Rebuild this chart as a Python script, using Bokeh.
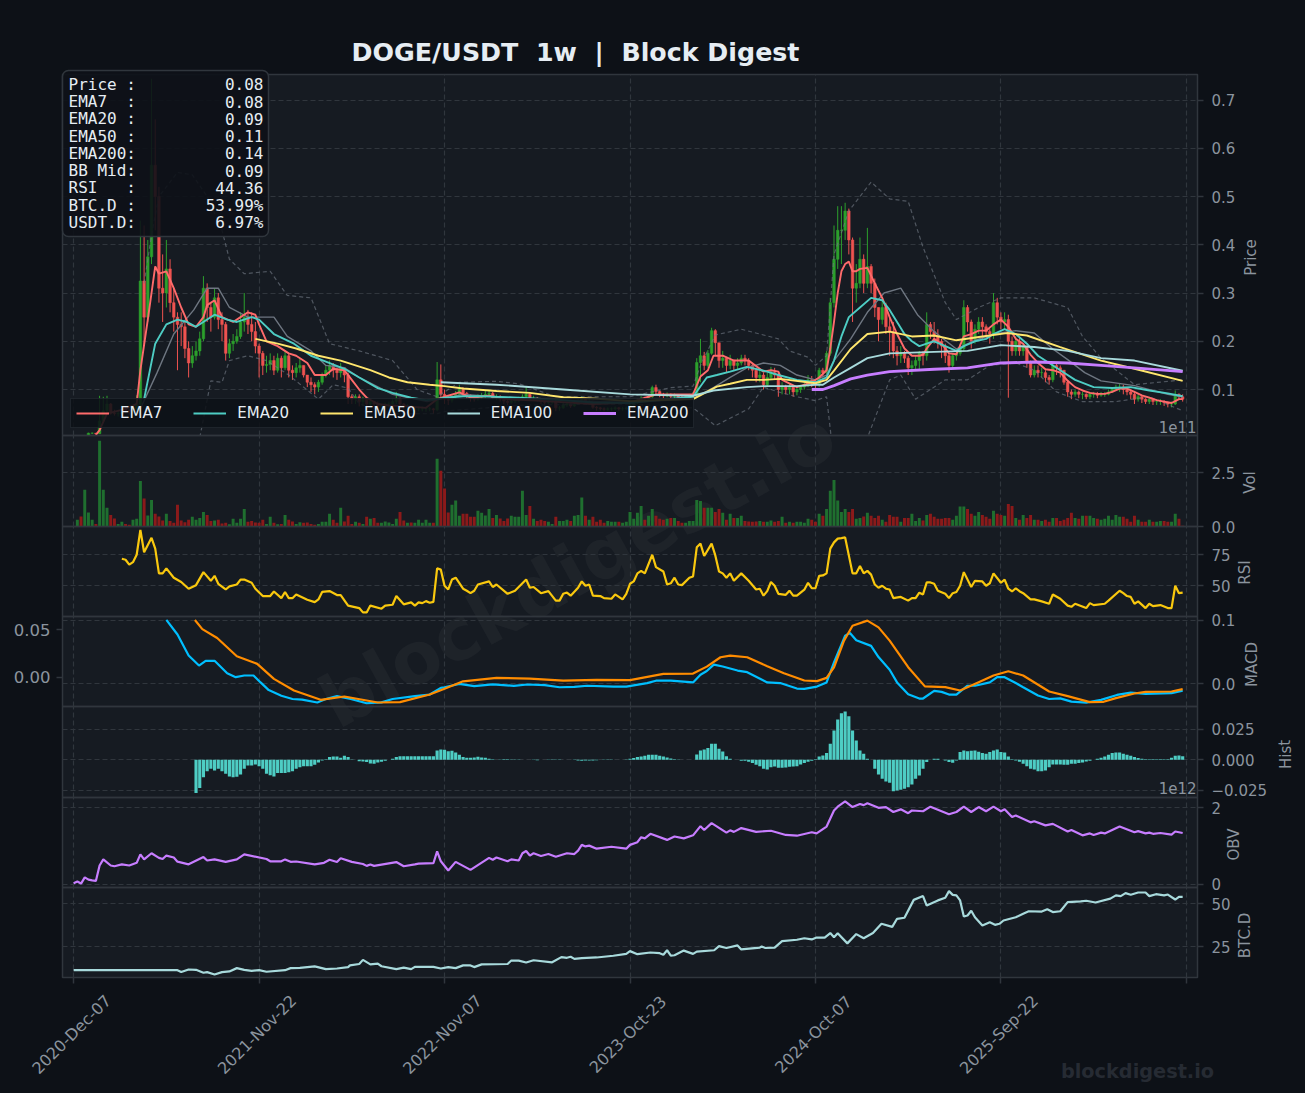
from bokeh.plotting import figure
from bokeh.layouts import column
from bokeh.models import Range1d, FixedTicker, LinearAxis, Legend, LegendItem, ColumnDataSource
from bokeh.core.properties import value
from bokeh.embed import file_html
from bokeh.resources import INLINE
import math

# ---------- data ----------
tick_idx = [0, 50, 100, 150, 200, 250, 300]
tick_labels = ["2020-Dec-07", "2021-Nov-22", "2022-Nov-07", "2023-Oct-23", "2024-Oct-07", "2025-Sep-22", ""]
panel_names = ["Price", "Vol", "RSI", "MACD", "Hist", "OBV", "BTC.D"]

close = [
 .0045,.0046,.0045,.0047,.0095,.0095,.0085,.035,.056,.07,
 .051,.05,.05,.06,.057,.055,.06,.07,.325,.25,
 .375,.565,.50,.31,.30,.35,.28,.25,.235,.23,
 .185,.155,.17,.18,.205,.31,.27,.25,.29,.245,
 .235,.175,.195,.20,.21,.24,.25,.235,.22,.19,
 .175,.15,.152,.16,.14,.165,.145,.17,.14,.135,
 .145,.15,.13,.115,.11,.105,.115,.13,.14,.15,
 .14,.135,.145,.13,.085,.08,.085,.075,.08,.07,
 .075,.07,.065,.065,.07,.07,.075,.08,.07,.065,
 .065,.06,.06,.06,.06,.06,.06,.058,.12,.09,
 .08,.078,.085,.09,.10,.092,.088,.083,.08,.084,
 .087,.09,.092,.083,.085,.08,.076,.073,.076,.078,
 .08,.085,.09,.08,.082,.08,.075,.073,.074,.075,
 .062,.062,.068,.07,.066,.07,.076,.082,.074,.075,
 .063,.062,.06,.059,.06,.06,.062,.06,.06,.062,
 .068,.072,.078,.082,.08,.085,.104,.096,.09,.087,
 .09,.086,.088,.084,.082,.085,.088,.09,.156,.17,
 .15,.175,.222,.197,.16,.165,.15,.16,.15,.155,
 .165,.16,.15,.14,.125,.13,.11,.125,.135,.13,
 .10,.105,.10,.105,.095,.10,.105,.11,.12,.115,
 .11,.14,.135,.175,.28,.37,.43,.43,.47,.41,
 .31,.32,.37,.32,.355,.32,.27,.245,.27,.23,
 .22,.18,.17,.175,.165,.145,.15,.16,.175,.17,
 .235,.22,.21,.20,.19,.17,.15,.17,.175,.185,
 .27,.24,.20,.225,.24,.23,.22,.215,.28,.25,
 .24,.245,.20,.18,.20,.18,.19,.155,.13,.14,
 .135,.135,.125,.12,.15,.145,.14,.115,.095,.09,
 .095,.09,.09,.085,.09,.09,.088,.09,.09,.095,
 .10,.105,.105,.10,.095,.09,.08,.085,.08,.075,
 .08,.075,.075,.075,.073,.07,.07,.09,.085,.08]
high = [
 .0049,.0052,.0049,.0058,.0105,.0108,.0098,.087,.085,.087,
 .072,.058,.056,.068,.066,.06,.066,.088,.45,.44,
 .41,.744,.66,.52,.38,.41,.37,.31,.26,.26,
 .24,.20,.19,.20,.22,.335,.32,.28,.31,.30,
 .26,.24,.205,.215,.225,.26,.30,.265,.26,.24,
 .195,.18,.17,.175,.17,.175,.17,.18,.175,.15,
 .155,.165,.15,.13,.125,.115,.12,.135,.15,.16,
 .155,.145,.155,.145,.135,.09,.09,.09,.085,.085,
 .08,.077,.075,.07,.073,.075,.08,.095,.083,.072,
 .07,.067,.066,.065,.065,.064,.064,.062,.157,.152,
 .10,.088,.09,.097,.11,.105,.095,.09,.088,.09,
 .093,.097,.098,.095,.09,.088,.082,.079,.08,.082,
 .085,.09,.107,.092,.087,.084,.08,.077,.078,.079,
 .08,.066,.072,.074,.071,.073,.08,.086,.083,.08,
 .077,.066,.064,.063,.063,.063,.065,.064,.064,.065,
 .072,.075,.082,.086,.085,.089,.108,.11,.098,.093,
 .094,.092,.092,.09,.087,.088,.091,.095,.165,.205,
 .178,.182,.228,.225,.19,.18,.168,.172,.162,.165,
 .172,.172,.165,.155,.145,.14,.135,.135,.147,.145,
 .135,.115,.11,.112,.108,.106,.11,.118,.13,.128,
 .12,.145,.145,.18,.29,.44,.48,.48,.487,.475,
 .415,.36,.415,.38,.435,.36,.33,.27,.285,.28,
 .25,.24,.19,.19,.18,.17,.16,.17,.18,.18,
 .26,.24,.24,.225,.205,.195,.175,.175,.185,.195,
 .285,.275,.245,.235,.25,.25,.235,.225,.30,.29,
 .26,.26,.255,.21,.21,.21,.195,.19,.16,.15,
 .15,.145,.14,.13,.155,.155,.15,.14,.12,.10,
 .10,.098,.095,.092,.094,.095,.095,.095,.095,.10,
 .103,.11,.112,.11,.10,.10,.095,.09,.088,.082,
 .085,.082,.08,.08,.078,.075,.075,.098,.092,.09]
low = [
 .0041,.0042,.0040,.0043,.0046,.0078,.0068,.0080,.033,.052,
 .048,.046,.044,.048,.052,.048,.052,.056,.065,.19,
 .24,.36,.43,.28,.24,.27,.26,.22,.14,.19,
 .165,.125,.145,.16,.17,.20,.24,.22,.245,.225,
 .20,.16,.165,.18,.195,.205,.22,.215,.20,.175,
 .125,.13,.135,.14,.13,.135,.125,.14,.125,.12,
 .125,.135,.125,.105,.095,.09,.095,.11,.125,.13,
 .125,.12,.125,.115,.07,.07,.07,.065,.065,.06,
 .062,.06,.058,.058,.06,.063,.065,.07,.064,.06,
 .058,.056,.055,.055,.055,.054,.055,.05,.055,.08,
 .07,.068,.073,.08,.088,.085,.08,.075,.075,.077,
 .08,.083,.085,.08,.078,.075,.07,.068,.07,.072,
 .074,.077,.082,.076,.076,.075,.07,.069,.07,.07,
 .055,.056,.06,.064,.062,.064,.068,.072,.07,.068,
 .06,.056,.056,.055,.056,.056,.057,.056,.056,.057,
 .06,.066,.07,.076,.075,.078,.083,.09,.084,.082,
 .084,.08,.082,.08,.078,.08,.083,.085,.09,.115,
 .14,.145,.172,.17,.145,.145,.135,.142,.138,.142,
 .15,.15,.14,.125,.115,.115,.10,.105,.12,.12,
 .085,.09,.09,.09,.085,.088,.093,.10,.105,.105,
 .10,.105,.125,.132,.17,.27,.35,.36,.41,.38,
 .24,.28,.31,.30,.31,.30,.25,.20,.235,.215,
 .17,.165,.15,.155,.155,.13,.13,.14,.14,.15,
 .16,.205,.195,.185,.165,.155,.135,.145,.16,.17,
 .18,.22,.185,.195,.215,.205,.205,.195,.205,.235,
 .225,.225,.083,.17,.17,.17,.17,.145,.125,.125,
 .125,.125,.115,.11,.115,.13,.125,.11,.085,.08,
 .085,.082,.08,.08,.08,.083,.082,.085,.085,.088,
 .093,.098,.095,.09,.088,.08,.07,.075,.072,.07,
 .07,.068,.068,.068,.066,.063,.063,.068,.078,.075]

volume_1e9 = [
 2,31,47,171,65,31,12,400,171,87,54,37,12,22,12,8,31,36,212,130,
 51,124,59,47,28,59,26,17,101,28,20,31,45,31,40,68,54,26,28,31,
 14,17,11,36,17,36,82,22,26,19,17,31,12,45,17,11,12,54,31,23,
 12,20,17,19,12,8,12,22,22,59,31,17,87,23,50,12,22,17,12,45,
 36,40,17,17,23,19,12,36,68,28,17,19,17,31,17,31,17,17,316,260,
 177,65,101,121,50,59,59,45,45,73,64,51,82,40,54,37,26,37,50,45,
 45,167,54,96,36,26,31,26,22,12,45,26,26,31,26,50,54,135,50,31,
 45,22,31,17,26,22,22,22,17,22,68,36,64,96,31,50,82,50,36,31,
 36,40,40,26,17,17,26,26,124,119,87,87,87,68,82,64,31,59,40,40,
 50,26,23,22,23,26,22,22,28,22,26,45,17,22,17,22,22,17,36,31,
 22,59,50,82,167,217,121,68,82,68,82,36,40,47,64,50,40,50,31,22,
 54,45,45,22,40,40,59,26,40,28,54,59,45,36,36,40,40,31,50,93,
 93,82,59,50,68,54,45,36,73,59,54,50,105,96,40,31,54,40,54,31,
 31,26,31,22,40,40,26,31,40,64,40,36,50,50,50,40,36,31,36,50,
 31,54,45,45,36,22,50,31,22,22,31,22,22,26,26,22,22,59,36,3]

hist_i = list(range(33, 300))
hist = [
 -.0273,-.0232,-.0142,-.0093,-.0074,-.0087,-.0074,-.0093,-.0115,-.0137,
 -.0142,-.0139,-.0120,-.0074,-.0046,-.0046,-.0038,-.0052,-.0074,-.0115,
 -.0126,-.0137,-.0109,-.0109,-.0109,-.0101,-.0093,-.0074,-.0060,-.0052,
 -.0052,-.0052,-.0041,-.0022,-.0005,.0005,.0022,.0027,.0027,.0016,
 .0033,.0022,.0003,0,-.0011,-.0014,-.0019,-.0030,-.0033,-.0022,
 -.0016,-.0008,0,.0008,.0022,.0030,.0030,.0030,.0030,.0030,
 .0030,.0030,.0030,.0030,.0030,.0077,.0085,.0082,.0071,.0074,
 .0060,.0041,.0022,.0016,.0016,.0019,.0025,.0019,.0016,.0008,
 .0005,0,.0002,.0005,.0005,.0003,.0003,.0002,.0001,0,
 0,-.0002,-.0003,0,.0001,.0002,.0002,.0003,.0002,0,
 0,0,-.0002,-.0005,-.0008,-.0006,-.0005,-.0005,-.0003,.0001,
 .0002,.0003,.0003,.0001,0,.0001,.0002,.0008,.0014,.0022,
 .0027,.0033,.0041,.0041,.0041,.0033,.0027,.0019,.0011,.0005,
 .0003,0,0,0,0,.0044,.0077,.0085,.0096,.0132,
 .0132,.0090,.0068,.0030,.0008,0,0,-.0008,-.0008,-.0016,
 -.0027,-.0041,-.0052,-.0074,-.0079,-.0060,-.0055,-.0066,-.0066,-.0063,
 -.0057,-.0055,-.0052,-.0038,-.0027,-.0016,-.0008,.0005,.0027,.0036,
 .0055,.0132,.0240,.0330,.0382,.0396,.0358,.0240,.0159,.0077,
 .0049,.0008,0,-.0074,-.0120,-.0156,-.0178,-.0189,-.0257,-.0252,
 -.0246,-.0238,-.0224,-.0202,-.0156,-.0128,-.0074,-.0019,0,.0008,
 .0008,0,-.0005,-.0019,-.0025,-.0005,.0063,.0077,.0071,.0074,
 .0077,.0066,.0055,.0049,.0063,.0077,.0085,.0063,.0060,.0027,
 .0005,-.0005,-.0016,-.0033,-.0052,-.0074,-.0079,-.0093,-.0093,-.0087,
 -.0060,-.0038,-.0038,-.0038,-.0041,-.0041,-.0033,-.0033,-.0027,-.0022,
 -.0014,-.0008,0,.0008,.0016,.0027,.0041,.0055,.0060,.0060,
 .0049,.0041,.0033,.0022,.0014,.0008,.0005,.0005,.0005,.0005,
 .0005,.0005,.0005,.0016,.0033,.0036,.0030]

ema7_i = [6,7,9,14,17,18,20,22,23,25,27,29,31,33,35,36,38,40,43,45,47,49,50,52,55,58,60,63,65,68,70,73,75,77,79,82,85,90,95,98,100,104,107,112,117,125,140,150,155,157,167,169,171,172.5,175,178,182,186,188,190,191,195,199,201,203,204,205,206,207,208,209,210,211,212,214,216,218,220,222,224,226,228,229,230,232,234,236,238,240,242,244,246,248,250,252,254,256,258,260,262,264,266,268,270,272,274,276,278,280,282,284,286,288,290,292,294,296,297,298,299]
ema7 = [.006,.016,.05,.06,.07,.14,.245,.355,.34,.345,
        .31,.27,.235,.23,.25,.275,.285,.25,.24,.25,
        .26,.255,.235,.20,.19,.175,.17,.155,.13,.13,
        .143,.14,.12,.10,.083,.07,.067,.065,.062,.08,
        .085,.094,.083,.087,.08,.077,.07,.073,.085,.09,
        .09,.127,.14,.17,.17,.16,.16,.137,.14,.137,
        .12,.105,.115,.125,.14,.185,.24,.30,.345,.36,
        .365,.345,.345,.35,.352,.32,.29,.25,.215,.185,
        .17,.17,.172,.185,.205,.195,.175,.173,.21,.215,
        .222,.222,.235,.245,.23,.205,.195,.172,.155,.142,
        .14,.135,.118,.105,.098,.093,.091,.091,.095,.102,
        .102,.095,.088,.083,.078,.075,.072,.076,.08,.08]
ema20_i = [19,22,25,28,30.6,33,36,38,41.4,44,48,50,54,59.4,64,68,73,77,82,86,91,95,98,100,105,110,120,130,140,150,160,167,170.7,173.4,177,181.5,186,190.5,195,200,203,205,207,209,212,215,218,220,222,224,226,228,230,232,235,238,240,243,246,248,251,254,257,260,263,266,270,275,280,285,290,295,299]
ema20 = [.08,.195,.235,.245,.24,.23,.245,.255,.245,.24,.25,.245,.215,.195,.17,.158,.143,.125,.103,.093,.083,.078,.08,.083,.086,.086,.083,.079,.073,.072,.08,.085,.125,.13,.137,.147,.139,.129,.12,.115,.125,.16,.21,.25,.27,.29,.285,.265,.24,.215,.20,.19,.195,.20,.19,.18,.19,.20,.205,.215,.225,.215,.195,.17,.155,.14,.12,.105,.103,.105,.098,.092,.086]
ema50_i = [49,55,60,66,72,80,85,90,96,100,105,114,123,132,141,150,167,173.4,177,181.5,186,190.5,200,203,205,209.5,214,220,226,232,238,245,251.6,257,266,277,286,299]
ema50 = [.205,.195,.185,.17,.16,.14,.125,.115,.11,.107,.102,.097,.093,.084,.081,.076,.08,.106,.112,.12,.12,.122,.113,.12,.139,.184,.215,.22,.21,.212,.202,.21,.217,.212,.188,.16,.143,.118]
ema100_i = [99,114,132,150,167,172.5,181.5,186,195,200,202,205,209.5,214,220,232,241,250,259,268,277,286,299]
ema100 = [.115,.11,.10,.09,.087,.098,.105,.107,.107,.11,.11,.125,.145,.165,.175,.178,.18,.192,.188,.18,.165,.16,.139]
ema200_i = [199,202,205,209.5,214,220,232,241,250,259,268,277,286,299]
ema200 = [.10,.10,.108,.122,.13,.137,.142,.145,.155,.157,.155,.15,.145,.137]
bbmid_i = [18,22.5,27,32.4,36,39,42,47,54,57.6,64,68,73,77,86,95.3,99,105,114,130,150,167,172.5,177,181.5,186,190.5,195,200,203,205,209.5,214,218.5,223,227.5,232,238,243,248,254,259,264,268,272.6,277,286,295,299]
bbmid = [.06,.135,.215,.265,.31,.31,.27,.25,.25,.21,.18,.15,.145,.125,.09,.075,.08,.09,.085,.078,.073,.081,.104,.125,.145,.155,.15,.13,.12,.13,.16,.205,.26,.30,.31,.255,.22,.184,.202,.215,.222,.217,.184,.162,.135,.118,.108,.09,.085]
bbup_i = [19,21,23,25,28,32,36,40,42,46,53,57.6,64,69,77,86,92.6,98,104,114,120,130,150,161,167,169,173,180,190,193,198,200,203,205,209,215,220,225,229,235,238,244,250,259,268,272,277,286,299]
bbup = [.32,.42,.50,.52,.55,.545,.50,.43,.37,.34,.345,.295,.29,.195,.18,.16,.10,.085,.115,.117,.112,.085,.085,.104,.107,.15,.213,.225,.205,.18,.167,.15,.17,.38,.47,.53,.495,.49,.395,.28,.245,.27,.29,.29,.27,.21,.165,.11,.12]
bblow_i = [19,25,30,34,37,40,42,47,52,58,66,70,74,77,86,92,98,101,122,150,167,169,173,182,186,190,195,200,203,205,214,220,223,227,235,241,247,254,259,265,272,281,290,299]
bblow = [-.2,-.12,-.05,0.,.118,.115,.16,.17,.16,.13,.08,.11,.103,.07,.05,.05,.05,.056,.068,.07,.062,.05,.025,.06,.105,.095,.085,.077,.085,-.05,0.,.12,.13,.08,.12,.12,.15,.155,.14,.095,.075,.075,.085,.056]

rsi_i = [13,14,15,16,17,18,19,21,22,23,24,25,27,29,31,33,35,37,38,39,41,42,44,45,46,48,49,51,53,54,56,57,58,59,60,63,65,66,67,69,71,72,74,77,78,79,80,83,84,86,87,89,91,92,93,94,95,96,97,98,99,100,101,102,103,105,106,107,108,109,112,113,114,117,119,122,123,124,126,128,130,131,132,133,134,136,137,138,139,140,142,143,145,146,148,149,150,151,152,153,154,156,157,159,160,161,162,163,164,166,167,168,169,170,172,173,174,175,176,177,178,180,182,184,185,186,187,188,189,190,192,193,194,195,197,198,199,200,201,202,203,204,205,206,207,208,210,211,212,213,214,215,216,217,218,219,220,221,223,225,226,227,228,229,230,231,232,233,235,236,237,238,239,240,242,243,245,246,247,248,250,251,252,253,254,255,256,258,259,261,263,264,266,268,269,270,273,274,275,278,279,282,283,284,285,286,287,289,290,291,293,295,296,297,298,299]
rsi = [71.8,71,67,69,75,95,77,88.7,80,60,60,64,56.5,53,47.6,50.5,61,54,58,51.6,47,49.5,51,55,55,52.4,47.6,41.7,41.7,45.4,40,45,40,40,43,38.7,36.8,39,45,45.7,42.5,42.5,34,32,28.5,28.5,34,31.5,34,34.7,41.7,35,36.6,34,36.6,36,37.6,36.3,37,64,63,50,47,55,56.5,47.6,46,44,46,51,53.5,49,51,43.5,46,55,48.4,49,44,45.7,38,38,43.5,44.5,42,48.4,53.5,50,51,42,41.7,40,39.5,43,39,43.5,51.6,53.5,60,62,60,75,65,61.5,51,52,56.5,51,50.5,56.5,57.5,81,84,74,84,74.5,61.5,60,56.5,60,54,60,54,47,47.6,42,45.7,53,50,43.5,42.7,46,42,42,46.8,52.4,48,48,58,58.3,60,80,85,88,88.4,89,60,60,66,60,62,59,51,48.4,50,47.6,47,40,41,38,40,40,44.4,43,52.7,52.7,51.6,46,43.5,40,44,45,50,61,49,54,53.5,50,52,60,52.4,55,47.6,45.4,48,45.6,44,39,39,37.4,35.5,43,39.5,34,33,35.5,32,36,34.4,35.5,38,46,44,41.7,41,35.5,37.4,32,35.5,33.6,34.4,32,32,50,44,44.4]

macd_i = [25,28,31,33.8,35.6,38,41.4,43.7,46,48.5,50.4,52.6,56,59,61.6,65.7,68,71,74.7,79,83,86,92,96,99,100,104,108,113,118.7,122.3,127,131,135,138.5,145.6,149,154.6,157,161,167,169,170.7,172.6,175,179,181.6,187,190.5,195,197,200.4,203,205,208,209.3,211,215,217,220,222,225,228,229,232,234,236,238,241,243,247,249,251,254,256,260,263,266,269,273,277,281.3,285,289,296,299]
macd = [.0605,.045,.0229,.0123,.0173,.0173,.0042,0,.0018,.0018,-.0055,-.0136,-.0195,-.023,-.0236,-.0267,-.023,-.02,-.023,-.0275,-.0265,-.023,-.02,-.0183,-.0112,-.0106,-.007,-.0095,-.0075,-.0091,-.0077,-.0084,-.0106,-.0102,-.009,-.01,-.01,-.0062,-.0037,-.0037,-.0055,.0026,.0065,.0132,.0113,.007,.0053,-.0055,-.0062,-.012,-.0123,-.0099,-.0055,.0157,.0438,.0467,.039,.033,.0212,.0079,-.0055,-.018,-.0225,-.0225,-.0145,-.0155,-.0183,-.0183,-.009,-.009,-.0055,0,0,-.0062,-.0106,-.0193,-.023,-.0223,-.0258,-.0268,-.0239,-.0187,-.0162,-.0176,-.0169,-.0141]
signal_i = [32.7,34.7,38.7,44,49.5,54,59.4,66.6,73,82,88,96,100,105,114,123,132,141,150,159,167,170.7,174.4,177,181.6,187,191.5,197,200.4,203,205,207.7,210,214,217,220,225,229.5,235,239,244,248,252,256,263,268,274,277.7,281,286,289,296,299]
signal = [.10,.0858,.0719,.0433,.0313,.0078,-.0104,-.025,-.0198,-.0292,-.0287,-.0167,-.0078,.004,.0092,.0083,.005,.0063,.0057,.0156,.0161,.027,.0417,.0443,.0417,.0276,.0167,.0052,.0042,.0094,.026,.0677,.0911,.099,.0885,.0677,.026,-.004,-.0052,-.0104,.0026,.013,.0198,.013,-.012,-.0193,-.0286,-.0281,-.0224,-.0151,-.0125,-.012,-.0083]

obv_i = [0,1,2,3,4,5,6,7,8,10,11,13,15,17,18,19,21,23,24,25,27,28,31,35,36,38,41,44,46,52,53,56,57,58.5,60,65,67.5,69,71,72,75,78,79,80,81,87,89,92,93,97,98,99,101,103,107,112,113,114,117,118,120,121,122,123,124,126,128,130,133,135,136,137,138,139,141,145,149,150,152,153,154,155.5,160,162,164.5,167,169,170,172,176,177,178,180,184,188,192,195,199,200.3,203,205,206,208,210,212,213,214,217,219,221,223,225,226,229,231,236,238,240,242,244,246,248,250,251,253,254,258,259,262,264,268,269,272,274,275,277,278,282,286,287,289,290,291,293,296,297,299]
obv_1e12 = [.026,.07,.017,.18,.12,.10,.087,.49,.65,.49,.47,.52,.49,.56,.78,.65,.81,.69,.66,.75,.70,.59,.52,.71,.62,.65,.585,.65,.78,.66,.60,.60,.65,.585,.595,.52,.56,.64,.58,.68,.585,.53,.48,.515,.48,.58,.47,.52,.54,.55,.86,.60,.36,.585,.375,.69,.64,.70,.60,.65,.62,.81,.87,.75,.81,.74,.79,.72,.81,.79,.88,1.03,.99,1.01,.93,.98,.93,1.03,1.10,1.23,1.2,1.32,1.16,1.25,1.2,1.28,1.52,1.42,1.6,1.35,1.41,1.37,1.47,1.37,1.4,1.29,1.27,1.36,1.33,1.51,1.93,2.03,2.17,2.02,2.1,2.07,2.12,2.0,2.02,1.89,1.96,1.86,1.93,1.91,2.03,1.83,1.89,2.03,1.89,2.02,1.91,2.03,1.91,1.96,1.76,1.8,1.62,1.65,1.54,1.58,1.38,1.42,1.28,1.33,1.29,1.35,1.33,1.51,1.36,1.39,1.33,1.35,1.32,1.34,1.3,1.38,1.34]

btcd_i = [0,28,29,31,33,35,36,38,40,42,44,46,48,50,52,57,58.5,61,65,68,71,74,74.5,77,78,80,82,83,87,89,91,92,97,99,101,103,105,107,108,110,117,118,120,122,124,129,131.5,133,134,135,137,141,145.5,149,150,152,155.5,158,159,160,161,162,164.5,167,168,172.7,174,176,179,180,185,185.5,186.5,189,191,195,197,199,200.3,202.5,204,205,206,208.6,211,213,215.5,217.8,220.7,222,224,226.5,229,230,233,235,236,237,238,239,240,241,242,243,245,247,248.4,249.6,250.7,254,256,257.5,261,262.5,264,266,268,271.5,273,275.5,279.5,281,282.3,283.6,285,287,289,290,291.8,294,295,297,298,299]
btcd = [11.4,11.4,10.3,11.8,11.6,9.9,10.3,8.9,10.3,10.7,12.6,11.6,11,11.4,10.5,11.4,12.6,12.8,13.6,12,12.4,13.2,14.2,15,17.4,14.8,15.2,13.7,12,12.9,12,13.3,13.3,12.4,13.2,12.6,14.2,14.2,13.2,14.8,15,17,17,15.9,17.2,16,19,18.6,19.2,18,18.4,18.8,19.8,20.9,22.5,20.7,21.7,21.3,20.4,23,19.9,20.1,22.8,20.9,22.2,23,25.4,24.3,25.8,23.5,24.5,25.2,24.3,24.5,28.3,29.1,30,29.3,30.4,30.4,33,30.6,32.9,27,32.4,30,33,38.4,36.6,41.3,41.9,52.3,54.5,49,52,53.5,57.4,55.2,54.9,52,42.6,43.2,46,42.2,37.4,39.3,37.8,38.4,40.3,42.2,44.2,45.7,45.5,46.9,45.2,45.7,51,51.4,51.8,50.8,53,54.9,54.5,56.2,55.3,56.6,56.6,54.5,55.6,54.9,55.4,52.5,54,54]

info_labels = ["Price\u00a0:", "EMA7\u00a0\u00a0:", "EMA20\u00a0:", "EMA50\u00a0:", "EMA200:", "BB\u00a0Mid:", "RSI\u00a0\u00a0\u00a0:", "BTC.D\u00a0:", "USDT.D:"]
info_values = ["0.08", "0.08", "0.09", "0.11", "0.14", "0.09", "44.36", "53.99%", "6.97%"]

_pairs = dict(high=(high, close), low=(low, close), vol=(volume_1e9, close), hist=(hist, hist_i), e7=(ema7, ema7_i), e20=(ema20, ema20_i),
              e50=(ema50, ema50_i), e100=(ema100, ema100_i), e200=(ema200, ema200_i), mid=(bbmid, bbmid_i), up=(bbup, bbup_i),
              lo=(bblow, bblow_i), rsi=(rsi, rsi_i), macd=(macd, macd_i), sig=(signal, signal_i), obv=(obv_1e12, obv_i), btc=(btcd, btcd_i))
_bad = {k: (len(a), len(b)) for k, (a, b) in _pairs.items() if len(a) != len(b)}
assert not _bad and len(close) == 300, (_bad, len(close))

# ---------- style ----------
PAGE_BG = "#0d1117"; PANEL_BG = "#161b22"; GRID = "#30363d"; EDGE = "#30363d"
TICK = "#8b949e"; GREEN = "#2ca02c"; RED = "#ef5350"; VGREEN = "#1f6f2f"; VRED = "#8b1a1a"
FONT = "DejaVu Sans"; W = 1305; H = 1093; L = 62; R = 108

idx = list(range(len(close)))
opens = [close[0]] + close[:-1]
is_up = [c >= o for c, o in zip(close, opens)]

def style_axis(ax):
    ax.axis_line_color = None
    ax.major_tick_line_color = EDGE; ax.major_tick_line_width = 1.5
    ax.major_tick_out = 6; ax.major_tick_in = 0; ax.minor_tick_line_color = None
    ax.major_label_text_color = TICK; ax.major_label_text_font = FONT
    ax.major_label_text_font_size = "15px"; ax.major_label_standoff = 8

def panel(y0, y1, yr, ticks=(), labels=None, xaxis=False):
    p = figure(width=W, height=H, x_range=Range1d(-3, 303), y_range=Range1d(*yr), output_backend="svg",
               toolbar_location=None, x_axis_location="below" if xaxis else None, y_axis_location="right",
               min_border_left=L, min_border_right=R, min_border_top=y0, min_border_bottom=H - y1,
               margin=(-H, 0, 0, 0))
    p.background_fill_alpha = 0; p.border_fill_alpha = 0
    p.outline_line_color = EDGE; p.outline_line_width = 1.5
    ax = p.yaxis[0]
    ax.ticker = FixedTicker(ticks=list(ticks))
    ax.major_label_overrides = labels or {}
    style_axis(ax)
    p.ygrid.ticker = FixedTicker(ticks=list(ticks))
    p.xgrid.ticker = FixedTicker(ticks=tick_idx)
    for g in (p.xgrid[0], p.ygrid[0]):
        g.grid_line_color = GRID; g.grid_line_dash = "5 3"; g.grid_line_width = 1.2
    return p

# ---------- price ----------
price = panel(74, 435, (.0047, .7529), ticks=[.1, .2, .3, .4, .5, .6, .7],
              labels={.1: "0.1", .2: "0.2", .3: "0.3", .4: "0.4", .5: "0.5", .6: "0.6", .7: "0.7"})
price.margin = 0
src = ColumnDataSource(dict(x=idx, o=opens, c=close, h=high, l=low, col=[GREEN if u else RED for u in is_up]))
price.segment("x", "l", "x", "h", source=src, color="col", line_width=1)
price.vbar(x="x", width=.7, bottom="o", top="c", source=src, fill_color="col", line_color="col", line_width=.5)
price.line(bbup_i, bbup, line_color="#6e7681", line_width=1.2, line_alpha=.65, line_dash="4 3")
price.line(bblow_i, bblow, line_color="#6e7681", line_width=1.2, line_alpha=.65, line_dash="4 3")
price.line(bbmid_i, bbmid, line_color="#6e7681", line_width=1.4)
r7 = price.line(ema7_i, ema7, line_color="#ff6b6b", line_width=1.9)
r20 = price.line(ema20_i, ema20, line_color="#4ecdc4", line_width=1.9)
r50 = price.line(ema50_i, ema50, line_color="#ffe66d", line_width=1.9)
r100 = price.line(ema100_i, ema100, line_color="#a8dadc", line_width=1.9)
r200 = price.line(ema200_i, ema200, line_color="#c77dff", line_width=2.8)
legend = Legend(items=[LegendItem(label=n, renderers=[r]) for n, r in
                       zip(["EMA7", "EMA20", "EMA50", "EMA100", "EMA200"], [r7, r20, r50, r100, r200])],
                orientation="horizontal", location=(8, 7), margin=0, padding=5, spacing=31,
                glyph_width=33, glyph_height=14, label_standoff=11, label_height=17,
                label_text_font=FONT, label_text_font_size="15px", label_text_color="#e6edf3",
                background_fill_color=PAGE_BG, background_fill_alpha=.88,
                border_line_color=EDGE, border_line_width=1.5)
price.add_layout(legend)

# ---------- volume ----------
vol = panel(435, 526, (0, 424), ticks=[0, 250], labels={0: "0.0", 250: "2.5"})
vol.vbar(x=idx, width=.8, top=volume_1e9, bottom=0, fill_color=[VGREEN if u else VRED for u in is_up], line_color=None)

# ---------- RSI ----------
rs = panel(526, 616, (25.2, 97.8), ticks=[50, 75], labels={50: "50", 75: "75"})
rs.line(rsi_i, rsi, line_color="#f9c80e", line_width=2.2)

# ---------- MACD ----------
mc = panel(616, 706, (-.0355, .1055), ticks=[0, .1], labels={0: "0.0", .1: "0.1"})
mc.extra_y_ranges = {"left": Range1d(-.0309, .064)}
left = LinearAxis(y_range_name="left", ticker=FixedTicker(ticks=[0, .05]), major_label_overrides={0: "0.00", .05: "0.05"})
style_axis(left)
left.major_label_standoff = 6
left.major_label_text_font_size = "16.5px"
mc.add_layout(left, "left")
mc.line(macd_i, macd, y_range_name="left", line_color="#00bfff", line_width=2.2)
mc.line(signal_i, signal, line_color="#ff8c00", line_width=2.2)

# ---------- histogram ----------
hs = panel(706, 797, (-.0309, .0437), ticks=[-.025, 0, .025], labels={-.025: "\u22120.025", 0: "0.000", .025: "0.025"})
hs.vbar(x=hist_i, width=.85, top=hist, bottom=0, fill_color="#4ecdc4", line_color=None)

# ---------- OBV ----------
ob = panel(797, 887, (-.086, 2.27), ticks=[0, 2], labels={0: "0", 2: "2"})
ob.line(obv_i, obv_1e12, line_color="#c77dff", line_width=2.2)

# ---------- BTC.D ----------
bt = panel(887, 977, (7.15, 59.5), ticks=[25, 50], labels={25: "25", 50: "50"}, xaxis=True)
bt.line(btcd_i, btcd, line_color="#a8dadc", line_width=2.2)
xa = bt.xaxis[0]
style_axis(xa)
xa.ticker = FixedTicker(ticks=tick_idx)
xa.major_label_overrides = {t: "" for t in tick_idx}

panels = column(price, vol, rs, mc, hs, ob, bt, spacing=0, margin=(-H, 0, 0, 0))

# ---------- back layer: page, panel fill, title, watermarks (page pixel coordinates) ----------
def sheet():
    s = figure(width=W, height=H, x_range=Range1d(0, W), y_range=Range1d(H, 0), output_backend="svg",
               toolbar_location=None, x_axis_location=None, y_axis_location=None, min_border=0, margin=(-H, 0, 0, 0))
    s.grid.visible = False; s.outline_line_color = None
    s.background_fill_alpha = 0; s.border_fill_alpha = 0
    return s

back = sheet()
back.margin = 0
back.quad(left=[62], right=[1197], top=[74], bottom=[977], fill_color=PANEL_BG, line_color=None)
back.text([575], [52], ["DOGE/USDT\u00a0\u00a01w\u00a0\u00a0|\u00a0\u00a0Block\u00a0Digest"], text_font=value(FONT), text_font_style="bold",
          text_font_size="25.3px", text_color="#e6edf3", text_align="center", text_baseline="middle")
back.text([577], [568], ["blockdigest.io"], text_font=value(FONT), text_font_style="bold", text_font_size="72.5px",
          text_color="#ffffff", text_alpha=.035, text_align="center", text_baseline="middle", angle=[math.radians(29)])
back.text([1137], [1071], ["blockdigest.io"], text_font=value(FONT), text_font_style="bold", text_font_size="19.3px",
          text_color="#262b33", text_align="center", text_baseline="middle")

# ---------- front layer: info box, axis names, offset labels, rotated date labels ----------
front = sheet()
front.quad(left=[62], right=[268], top=[70], bottom=[236], fill_color=PAGE_BG, fill_alpha=.9, line_color=EDGE, line_width=1.5, border_radius=6)
ys = [83.8 + 17.25 * k for k in range(9)]
front.text([68] * 9, ys, info_labels, text_font=value("DejaVu Sans Mono"), text_font_size="16px", text_color="#e6edf3",
           text_align="left", text_baseline="middle")
front.text([263] * 9, ys, info_values, text_font=value("DejaVu Sans Mono"), text_font_size="16px", text_color="#e6edf3",
           text_align="right", text_baseline="middle")
front.text([1196, 1196], [426, 787], ["1e11", "1e12"], text_font=value(FONT), text_font_size="15px", text_color=TICK,
           text_align="right", text_baseline="middle")
front.text([1250, 1249, 1244, 1251, 1285, 1233, 1244], [257, 482, 572, 664, 754, 844, 935], panel_names,
           text_font=value(FONT), text_font_size="15px", text_color=TICK, text_align="center", text_baseline="middle",
           angle=[math.pi / 2] * 7)
px_per_bar = (1197 - 62) / 306
date_x = [62 + (t + 3) * px_per_bar - 2 for t, s in zip(tick_idx, tick_labels) if s]
front.text(date_x, [1034] * len(date_x), [s for s in tick_labels if s], text_font=value(FONT), text_font_size="16px",
           text_color=TICK, text_align="center", text_baseline="middle", angle=[math.pi / 4] * len(date_x))

page = column(back, panels, front, spacing=0)
html = file_html(page, INLINE)
html = html.replace("<head>", "<head><style>html,body{background:%s;margin:0;overflow:hidden}</style>" % PAGE_BG, 1)
open("out.html", "w").write(html)
